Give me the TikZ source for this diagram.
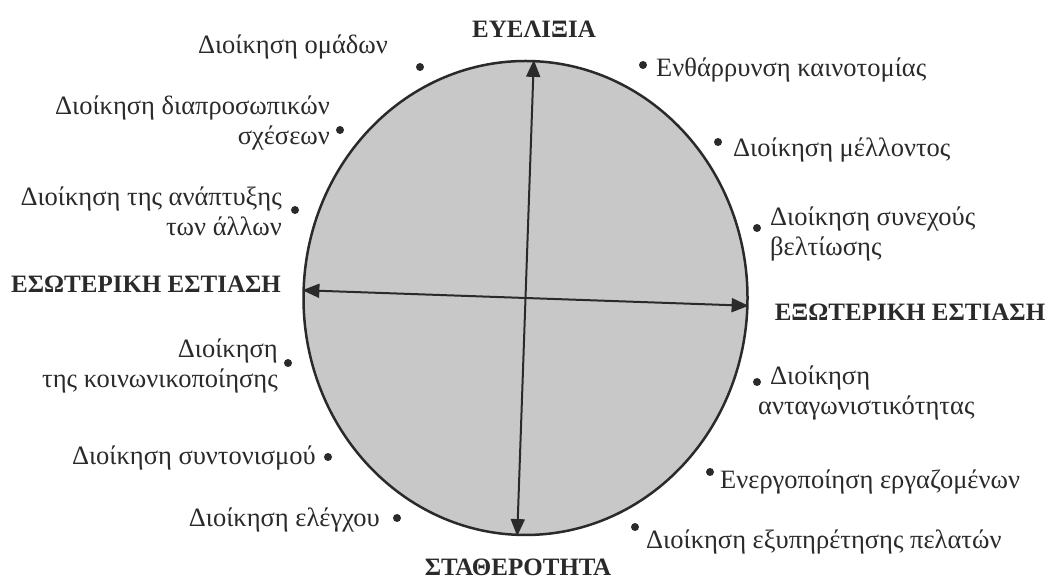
\documentclass[tikz,border=0pt]{standalone}
\usepackage{fontspec}
\setmainfont{Liberation Serif}
\usepackage{tikz}
\usepackage{xcolor}
\usetikzlibrary{shapes.geometric}
\usetikzlibrary{arrows.meta}
\usetikzlibrary{positioning}

\definecolor{ink}{HTML}{2A2A2A}
\definecolor{disc}{HTML}{C8C8C8}

\tikzset{
  dot/.style={circle, fill=ink, inner sep=0pt, minimum size=8pt},
  lbl/.style={text=ink, inner sep=0pt, font=\fontsize{26.5}{30}\selectfont},
  axis/.style={text=ink, inner sep=0pt, font=\fontsize{25}{28}\selectfont\bfseries},
  dblarrow/.style={draw=ink, line width=2pt, {Triangle[length=17pt,width=14pt]}-{Triangle[length=17pt,width=14pt]}}
}

\begin{document}
\begin{tikzpicture}[x=1pt, y=1pt]
\useasboundingbox (0,0) rectangle (1049,585);

% Disc (node)
\node[draw=ink, line width=2.5pt, fill=disc, ellipse, minimum width=444pt, minimum height=474pt, inner sep=0pt] (disk) at (525.5,287) {};

% Axes
\draw[dblarrow] (disk.178.1) -- (disk.358.1);
\draw[dblarrow] (disk.268.3) -- (disk.88.3);

% Axis names
\node[axis] (flex) at (534,556) {ΕΥΕΛΙΞΙΑ};
\node[axis] (stab) at (518,18) {ΣΤΑΘΕΡΟΤΗΤΑ};
\node[axis] (inner) at (146,301) {ΕΣΩΤΕΡΙΚΗ ΕΣΤΙΑΣΗ};
\node[axis] (outer) at (910,273) {ΕΞΩΤΕΡΙΚΗ ΕΣΤΙΑΣΗ};

% Dots (left side)
\node[dot] (dTeam) at (420,518) {};
\node[dot] (dRel) at (340,455) {};
\node[dot] (dDev) at (295,375) {};
\node[dot] (dSoc) at (288,222) {};
\node[dot] (dCoord) at (328,128) {};
\node[dot] (dCtrl) at (397,67) {};

% Dots (right side)
\node[dot] (dInnov) at (643,520) {};
\node[dot] (dFut) at (718,443) {};
\node[dot] (dImpr) at (757,357) {};
\node[dot] (dComp) at (757,203) {};
\node[dot] (dEmp) at (710,113) {};
\node[dot] (dCust) at (635,58) {};

% Labels (left side)
\node[lbl, anchor=east] (tTeam) at (388,538) {Διοίκηση ομάδων};
\node[lbl, anchor=east, align=right] (tRel) at (330,462) {Διοίκηση διαπροσωπικών\\σχέσεων};
\node[lbl, anchor=east, align=right] (tDev) at (282,374) {Διοίκηση της ανάπτυξης\\των άλλων};
\node[lbl, anchor=east, align=right] (tSoc) at (278,219) {Διοίκηση\\της κοινωνικοποίησης};
\node[lbl, anchor=east] (tCoord) at (316,127) {Διοίκηση συντονισμού};
\node[lbl, anchor=east] (tCtrl) at (380,65) {Διοίκηση ελέγχου};

% Labels (right side)
\node[lbl, anchor=west] (tInnov) at (656,515) {Ενθάρρυνση καινοτομίας};
\node[lbl, anchor=west] (tFut) at (733,435) {Διοίκηση μέλλοντος};
\node[lbl, anchor=west, align=left] (tImpr) at (770,351) {Διοίκηση συνεχούς\\βελτίωσης};
\node[lbl, anchor=west, align=left] (tComp) at (758,192) {\hspace*{12pt}Διοίκηση\\ανταγωνιστικότητας};
\node[lbl, anchor=west] (tEmp) at (720,103) {Ενεργοποίηση εργαζομένων};
\node[lbl, anchor=west] (tCust) at (646,43) {Διοίκηση εξυπηρέτησης πελατών};
\end{tikzpicture}
\end{document}
